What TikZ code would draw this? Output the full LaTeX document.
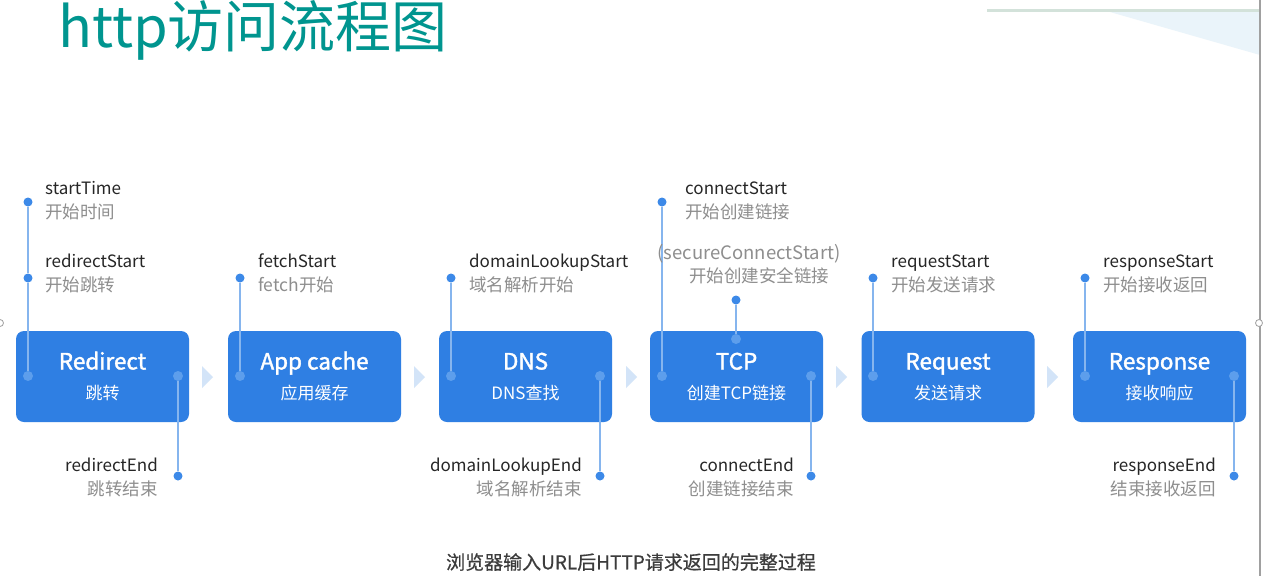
\documentclass[tikz,border=0pt]{standalone}
\usepackage{fontspec}
\setmainfont{Noto Sans CJK SC}
\newfontfamily\medfont{Noto Sans CJK SC}[FakeBold=1.6]
\newfontfamily\capfont{Noto Sans CJK SC}[FakeBold=0.6]
\usetikzlibrary{calc}
\definecolor{boxblue}{HTML}{2F7FE3}
\definecolor{dotblue}{HTML}{3C89E8}
\definecolor{lineblue}{HTML}{86B5EE}
\definecolor{indot}{HTML}{5D9EEC}
\definecolor{chev}{HTML}{D3E4F8}
\definecolor{titleteal}{HTML}{00958F}
\definecolor{subgray}{HTML}{8E8E8E}
\definecolor{txt}{HTML}{262626}
\definecolor{capgray}{HTML}{3C3C3C}
\definecolor{topline}{HTML}{D3E2DA}
\definecolor{edge}{HTML}{A0A0A0}
\definecolor{glow}{HTML}{EAF4FA}
\tikzset{
  stage/.style={draw=none, fill=boxblue, rounded corners=8pt, minimum width=173pt, minimum height=91pt, inner sep=0pt},
  stitle/.style={text=white, font=\medfont\fontsize{22.5}{24}\selectfont, inner sep=0pt, text height=16pt, text depth=5pt},
  ssub/.style={text=white, font=\fontsize{17}{19}\selectfont, inner sep=0pt, text height=13pt, text depth=3pt},
  dot/.style={circle, fill=dotblue, inner sep=0pt, minimum size=9pt},
  idot/.style={circle, fill=indot, inner sep=0pt, minimum size=10pt},
  tick/.style={draw=lineblue, line width=1.8pt},
  ename/.style={font=\fontsize{17}{19}\selectfont, text=txt, inner sep=0pt, text height=12.5pt, text depth=3pt},
  cname/.style={font=\fontsize{17.5}{19}\selectfont, text=subgray, inner sep=0pt, text height=12.5pt, text depth=3pt},
  chevron/.style={fill=chev, draw=none},
}
\begin{document}
\begin{tikzpicture}[x=1pt,y=-1pt]
\useasboundingbox (0,0) rectangle (1263,576);
\fill[white] (0,0) rectangle (1263,576);
% top-right decoration
\fill[glow] (1110,12) -- (1260,12) -- (1260,55) -- cycle;
\draw[topline, line width=3pt] (987,10) -- (1260,10);
\draw[edge, line width=2pt] (1260,0) -- (1260,576);
\draw[edge, line width=0.8pt, fill=white] (1259,323) circle (3.5);
\draw[edge, line width=0.8pt, fill=white] (0,323) circle (3.5);
% title
\node[anchor=west, text=titleteal, font=\fontsize{56}{60}\selectfont, inner sep=0pt] (title) at (58,30) {http访问流程图};

% stage boxes
\foreach \n/\x/\t/\s in {redirect/102.5/Redirect/跳转, appcache/314.5/App cache/应用缓存, dns/525.5/DNS/DNS查找, tcp/736.5/TCP/创建TCP链接, request/948/Request/发送请求, response/1159.5/Response/接收响应}{
  \node[stage] (\n) at (\x,376.5) {};
  \node[stitle] (\n-t) at (\x,364) {\t};
  \node[ssub] (\n-s) at (\x,394) {\s};
}
% chevrons
\foreach \x in {202,414,626,836,1047}{
  \fill[chevron] (\x,366) -- (\x+11,377) -- (\x,388) -- cycle;
}

% Redirect
\node[dot] (st) at (28,202) {};
\node[dot] (rs) at (28,278) {};
\node[idot] (rdl) at (28,376) {};
\node[idot] (rdr) at (178,376) {};
\node[dot] (re) at (178,476) {};
\draw[tick] (st) -- (rs);
\draw[tick] (rs) -- (rdl);
\draw[tick] (rdr) -- (re);
\node[ename, anchor=west] at (45,190) {startTime};
\node[cname, anchor=west] at (45,214) {开始时间};
\node[ename, anchor=west] at (45,263) {redirectStart};
\node[cname, anchor=west] at (45,287) {开始跳转};
\node[ename, anchor=east] at (158,467) {redirectEnd};
\node[cname, anchor=east] at (158,491) {跳转结束};

% App cache
\node[dot] (fs) at (240,278) {};
\node[idot] (acl) at (240,376) {};
\draw[tick] (fs) -- (acl);
\node[ename, anchor=west] at (258,263) {fetchStart};
\node[cname, anchor=west] at (258,287) {fetch开始};

% DNS
\node[dot] (ds) at (451,278) {};
\node[idot] (dnl) at (451,376) {};
\node[idot] (dnr) at (600,376) {};
\node[dot] (de) at (600,476) {};
\draw[tick] (ds) -- (dnl);
\draw[tick] (dnr) -- (de);
\node[ename, anchor=west] at (469,263) {domainLookupStart};
\node[cname, anchor=west] at (469,287) {域名解析开始};
\node[ename, anchor=east] at (582,467) {domainLookupEnd};
\node[cname, anchor=east] at (582,491) {域名解析结束};

% TCP
\node[dot] (cs) at (662,202) {};
\node[idot] (tcl) at (662,376) {};
\node[dot] (scs) at (736,300) {};
\node[idot] (tcm) at (736,339) {};
\node[idot] (tcr) at (811,376) {};
\node[dot] (ce) at (811,476) {};
\draw[tick] (cs) -- (tcl);
\draw[tick] (scs) -- (tcm);
\draw[tick] (tcr) -- (ce);
\node[ename, anchor=west] at (685,190) {connectStart};
\node[cname, anchor=west] at (685,214) {开始创建链接};
\node[cname, font=\fontsize{18.5}{20}\selectfont, anchor=center] at (749,255) {(secureConnectStart)};
\node[cname, anchor=center] at (759,278) {开始创建安全链接};
\node[ename, anchor=east] at (794,467) {connectEnd};
\node[cname, anchor=east] at (794,491) {创建链接结束};

% Request
\node[dot] (qs) at (873,278) {};
\node[idot] (rql) at (873,376) {};
\draw[tick] (qs) -- (rql);
\node[ename, anchor=west] at (891,263) {requestStart};
\node[cname, anchor=west] at (891,287) {开始发送请求};

% Response
\node[dot] (ps) at (1085,278) {};
\node[idot] (rpl) at (1085,376) {};
\node[idot] (rpr) at (1234,376) {};
\node[dot] (pe) at (1234,476) {};
\draw[tick] (ps) -- (rpl);
\draw[tick] (rpr) -- (pe);
\node[ename, anchor=west] at (1103,263) {responseStart};
\node[cname, anchor=west] at (1103,287) {开始接收返回};
\node[ename, anchor=east] at (1216,467) {responseEnd};
\node[cname, anchor=east] at (1216,491) {结束接收返回};

% caption
\node[text=capgray, font=\capfont\fontsize{19}{21}\selectfont, inner sep=0pt] (cap) at (631,562) {浏览器输入URL后HTTP请求返回的完整过程};
\end{tikzpicture}
\end{document}
